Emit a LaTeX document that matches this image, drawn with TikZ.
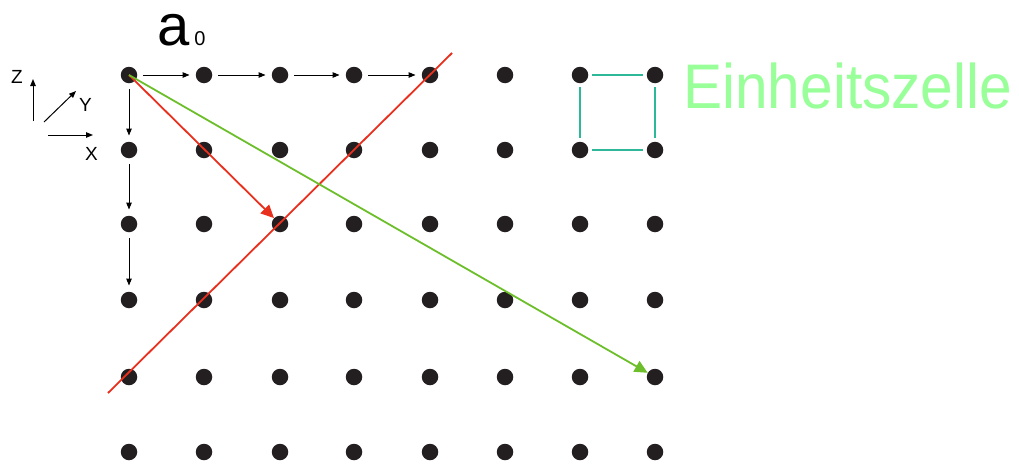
\documentclass[tikz,border=0pt]{standalone}
\usepackage{fontspec}
\setmainfont{Liberation Sans}
\usetikzlibrary{arrows.meta}
\definecolor{dotc}{HTML}{231F20}
\definecolor{lred}{HTML}{E8301E}
\definecolor{lgrn}{HTML}{6CBF2A}
\definecolor{lteal}{HTML}{2DB89A}
\definecolor{ltext}{HTML}{99FF99}
\begin{document}
\begin{tikzpicture}[x=1pt,y=-1pt,
  dot/.style={circle,fill=dotc,minimum size=16.5pt,inner sep=0pt},
  barrow/.style={draw=black,line width=1pt,-{Triangle[length=7pt,width=5.5pt]},shorten <=6pt,shorten >=6pt},
  axarrow/.style={draw=black,line width=1pt,-{Triangle[length=7pt,width=5.5pt]}},
  redarrow/.style={draw=lred,line width=1.8pt,-{Triangle[length=13pt,width=12pt]}},
  grnarrow/.style={draw=lgrn,line width=1.8pt,-{Triangle[length=13pt,width=12pt]}},
  cell/.style={draw=lteal,line width=1.6pt,shorten <=4pt,shorten >=4pt},
  lbl/.style={inner sep=0pt,anchor=base west,font=\fontsize{19}{19}\selectfont}]
\useasboundingbox (0,0) rectangle (1019,463);
\foreach \x [count=\i] in {129,204,280,354,430,505,580,655}
  \foreach \y [count=\j] in {75,150,224,300,377,452}
    \node[dot] (d\i-\j) at (\x,\y) {};
% red line
\coordinate (r1) at (108,393);
\coordinate (r2) at (452,53);
\draw[lred,line width=1.8pt] (r1) -- (r2);
% arrows along top row and first column
\draw[barrow] (d1-1) -- (d2-1);
\draw[barrow] (d2-1) -- (d3-1);
\draw[barrow] (d3-1) -- (d4-1);
\draw[barrow] (d4-1) -- (d5-1);
\draw[barrow] (d1-1) -- (d1-2);
\draw[barrow] (d1-2) -- (d1-3);
\draw[barrow] (d1-3) -- (d1-4);
% vectors
\draw[redarrow] (d1-1.center) -- (d3-3);
\draw[grnarrow] (d1-1.center) -- (d8-5);
% unit cell
\draw[cell] (d7-1) -- (d8-1);
\draw[cell] (d8-1) -- (d8-2);
\draw[cell] (d8-2) -- (d7-2);
\draw[cell] (d7-2) -- (d7-1);
% labels
\node[inner sep=0pt,anchor=base west,text=ltext,font=\fontsize{63}{63}\selectfont] (title) at (683,108) {\scalebox{0.93}[1]{Einheitszelle}};
\node[inner sep=0pt,anchor=base west,font=\fontsize{58}{58}\selectfont] (a0) at (157,45) {a\hspace{5pt}{\fontsize{20}{20}\selectfont 0}};
% axes
\coordinate (zs) at (33,121);
\coordinate (ze) at (33,79);
\coordinate (ys) at (44,122);
\coordinate (ye) at (76,91);
\coordinate (xs) at (48,135);
\coordinate (xe) at (93,135);
\draw[axarrow] (zs) -- (ze);
\draw[axarrow] (ys) -- (ye);
\draw[axarrow] (xs) -- (xe);
\node[lbl] (zl) at (11,83) {Z};
\node[lbl] (yl) at (79,111) {Y};
\node[lbl] (xl) at (85,160) {X};
\end{tikzpicture}
\end{document}
